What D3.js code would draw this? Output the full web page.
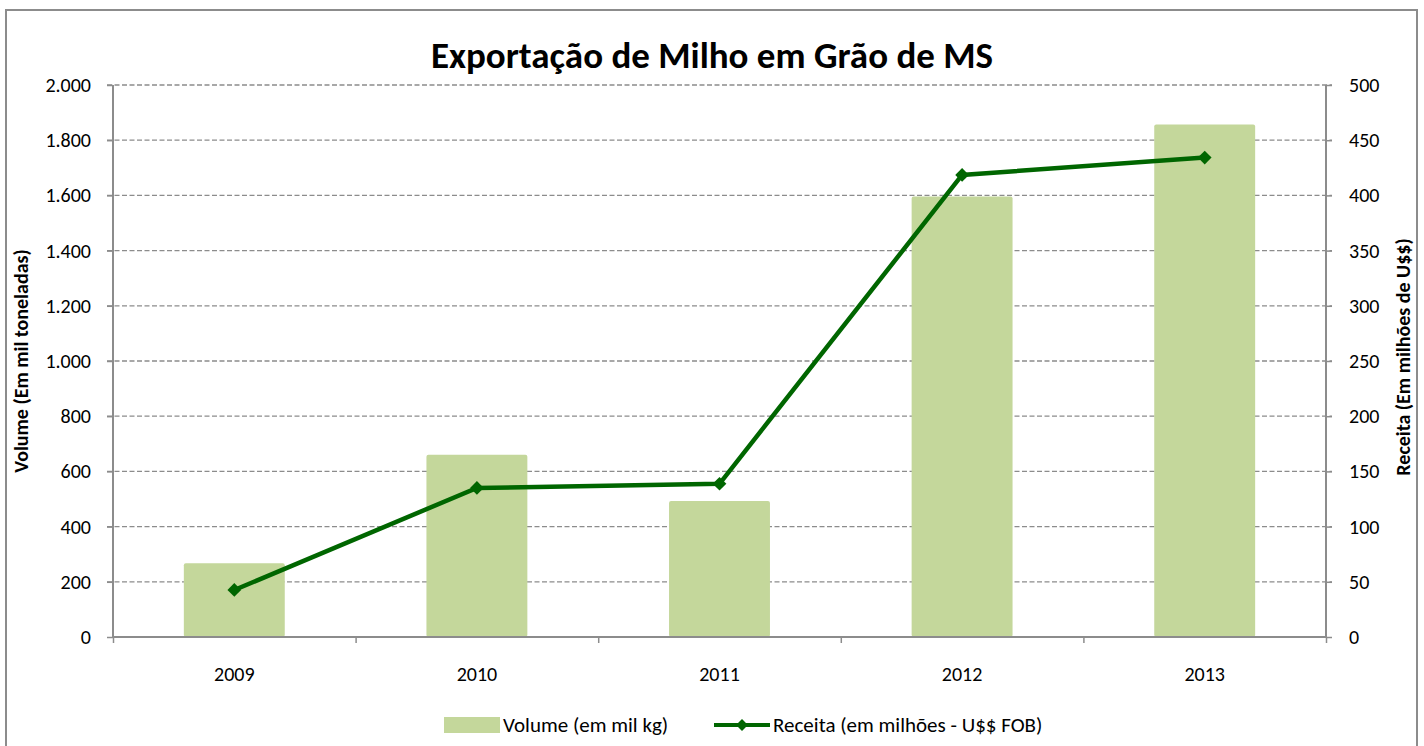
<!DOCTYPE html>
<html>
<head>
<meta charset="utf-8">
<script src="https://cdn.jsdelivr.net/npm/d3@7"></script>
<style>
  body { margin: 0; background: #fff; }
  svg { font-family: Carlito, Calibri, Lato, "Open Sans", sans-serif; }
</style>
</head>
<body>
<div id="chart"></div>
<script>
// data
var years = ["2009", "2010", "2011", "2012", "2013"];
var volume = [267, 660, 493, 1596, 1857];      // em mil toneladas
var receita = [42.6, 135, 138.8, 418.5, 434.3]; // milhões US$ FOB
var leftTicks = [0, 200, 400, 600, 800, 1000, 1200, 1400, 1600, 1800, 2000];
var rightTicks = [0, 50, 100, 150, 200, 250, 300, 350, 400, 450, 500];

var W = 1424, H = 746;
var margin = { top: 85, right: 98, bottom: 109, left: 113 },
    width = W - margin.left - margin.right,
    height = H - margin.top - margin.bottom;

var svg = d3.select("#chart").append("svg")
    .attr("width", W)
    .attr("height", H);

// outer frame
svg.append("rect")
    .attr("x", 6).attr("y", 10)
    .attr("width", 1411).attr("height", 740)
    .attr("fill", "none")
    .attr("stroke", "#8c8c8c")
    .attr("stroke-width", 2);

svg.append("text")
    .attr("x", 712).attr("y", 68)
    .attr("text-anchor", "middle")
    .attr("font-size", 37)
    .attr("font-weight", "bold")
    .text("Exportação de Milho em Grão de MS");

var g = svg.append("g")
    .attr("transform", "translate(" + margin.left + "," + margin.top + ")");

var x = d3.scaleBand().domain(years).range([0, width]).paddingInner(0.584).paddingOuter(0.292);
var xEdges = d3.scaleLinear().domain([0, years.length]).range([0, width]);
var yL = d3.scaleLinear().domain([0, 2000]).range([height, 0]);
var yR = d3.scaleLinear().domain([0, 500]).range([height, 0]);

var fmt = function (d) { return d3.format(",")(d).replace(/,/g, "."); };

// gridlines
g.append("g")
    .selectAll("line")
    .data(leftTicks.slice(1))
    .enter().append("line")
    .attr("x1", -6).attr("x2", width + 6)
    .attr("y1", function (d) { return yL(d); })
    .attr("y2", function (d) { return yL(d); })
    .attr("stroke", "#8c8c8c")
    .attr("stroke-width", 1.3)
    .attr("stroke-dasharray", "5,2.5");

// bars
g.append("g")
    .selectAll("rect")
    .data(volume)
    .enter().append("rect")
    .attr("x", function (d, i) { return x(years[i]); })
    .attr("y", function (d) { return yL(d); })
    .attr("width", x.bandwidth())
    .attr("height", function (d) { return height - yL(d); })
    .attr("rx", 2)
    .attr("fill", "#c4d79b");

// axes
var leftAxis = g.append("g")
    .call(d3.axisLeft(yL).tickValues(leftTicks).tickSize(6).tickPadding(16).tickFormat(fmt));
var rightAxis = g.append("g")
    .attr("transform", "translate(" + width + ",0)")
    .call(d3.axisRight(yR).tickValues(rightTicks).tickSize(6).tickPadding(17));
var bottomAxis = g.append("g")
    .attr("transform", "translate(0," + height + ")")
    .call(d3.axisBottom(xEdges).tickValues(d3.range(0, years.length + 1)).tickSize(6).tickFormat(""));

[leftAxis, rightAxis, bottomAxis].forEach(function (a) {
    a.select(".domain").attr("stroke", "#8c8c8c").attr("stroke-width", 2);
    a.selectAll(".tick line").attr("stroke", "#8c8c8c").attr("stroke-width", 1.5);
    a.selectAll("text").attr("font-size", 20).attr("fill", "#000")
        .attr("font-family", "Carlito, Calibri, Lato, 'Open Sans', sans-serif");
});
rightAxis.select(".domain").attr("d", "M0,0V" + height);
leftAxis.select(".domain").attr("d", "M0,0V" + height);
bottomAxis.select(".domain").attr("d", "M0,0H" + width);

// category labels
g.append("g")
    .selectAll("text")
    .data(years)
    .enter().append("text")
    .attr("x", function (d) { return x(d) + x.bandwidth() / 2; })
    .attr("y", height + 44)
    .attr("text-anchor", "middle")
    .attr("font-size", 20)
    .text(function (d) { return d; });

// line
var line = d3.line()
    .x(function (d, i) { return x(years[i]) + x.bandwidth() / 2; })
    .y(function (d) { return yR(d); });

g.append("path")
    .datum(receita)
    .attr("d", line)
    .attr("fill", "none")
    .attr("stroke", "#006600")
    .attr("stroke-width", 4.5);

g.append("g")
    .selectAll("path")
    .data(receita)
    .enter().append("path")
    .attr("d", d3.symbol().type(d3.symbolDiamond2).size(120))
    .attr("transform", function (d, i) {
        return "translate(" + (x(years[i]) + x.bandwidth() / 2) + "," + yR(d) + ")";
    })
    .attr("fill", "#006600");

// axis titles
svg.append("text")
    .attr("transform", "translate(28," + (margin.top + height / 2) + ") rotate(-90)")
    .attr("text-anchor", "middle")
    .attr("font-size", 20)
    .attr("font-weight", "bold")
    .text("Volume (Em mil toneladas)");

svg.append("text")
    .attr("transform", "translate(1410," + (margin.top + height / 2 - 4) + ") rotate(-90)")
    .attr("text-anchor", "middle")
    .attr("font-size", 20)
    .attr("font-weight", "bold")
    .text("Receita (Em milhões de U$$)");

// legend
var legend = svg.append("g");
legend.append("rect")
    .attr("x", 444).attr("y", 717)
    .attr("width", 56).attr("height", 16)
    .attr("fill", "#c4d79b");
legend.append("text")
    .attr("x", 503).attr("y", 732)
    .attr("font-size", 21)
    .text("Volume (em mil kg)");
legend.append("line")
    .attr("x1", 714).attr("x2", 770)
    .attr("y1", 725).attr("y2", 725)
    .attr("stroke", "#006600").attr("stroke-width", 4);
legend.append("path")
    .attr("d", d3.symbol().type(d3.symbolDiamond2).size(90))
    .attr("transform", "translate(742,725)")
    .attr("fill", "#006600");
legend.append("text")
    .attr("x", 773).attr("y", 732)
    .attr("font-size", 21)
    .text("Receita (em milhões - U$$ FOB)");
</script>
</body>
</html>
